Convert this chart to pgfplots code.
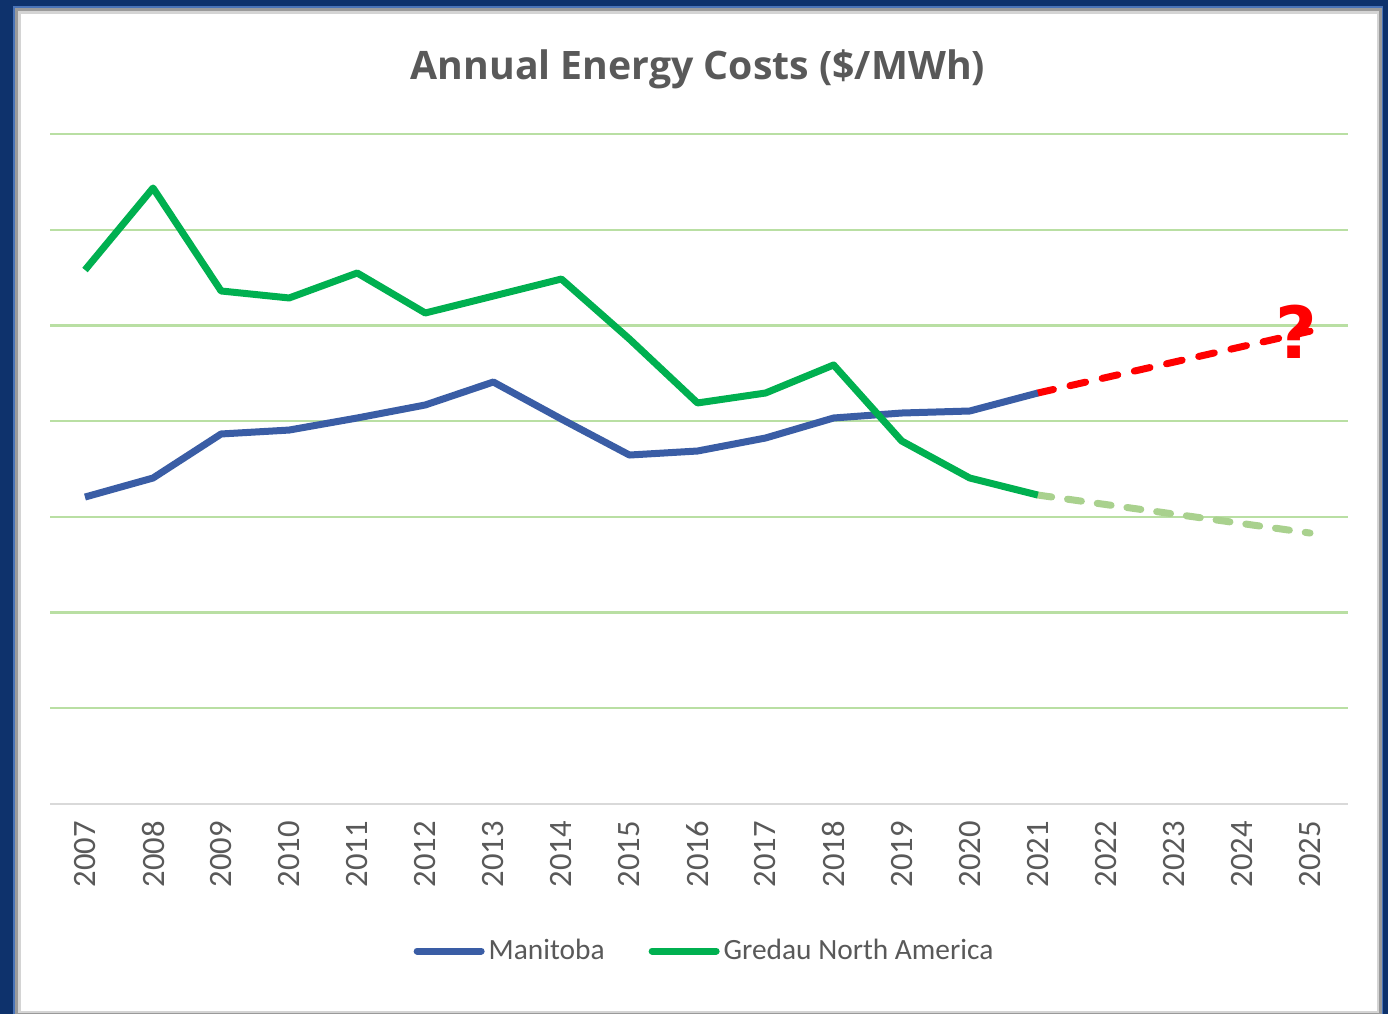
\documentclass[border=0pt]{standalone}
\usepackage{pgfplots}
\pgfplotsset{compat=1.18}
\usepackage{fontspec}
\setmainfont{Carlito}
\newfontfamily\titlefont{Open Sans}
\newfontfamily\qfont{DejaVu Sans}
\definecolor{navy}{HTML}{0E326C}
\definecolor{edgeblue}{HTML}{4A74B8}
\definecolor{bevel}{HTML}{9A9A9A}
\definecolor{bevellight}{HTML}{D4D4D4}
\definecolor{txtgray}{HTML}{595959}
\definecolor{gridgreen}{HTML}{B9DFA3}
\definecolor{mblue}{HTML}{3A5DA5}
\definecolor{ggreen}{HTML}{00B050}
\definecolor{lgreen}{HTML}{A9D18E}
\begin{document}
\begin{tikzpicture}
\useasboundingbox (0pt,0pt) rectangle (694pt,507pt);
\fill[navy] (0pt,0pt) rectangle (694pt,507pt);
\fill[edgeblue] (6.5pt,0pt) rectangle (691.5pt,504pt);
\fill[bevel] (7.5pt,0pt) rectangle (691pt,503pt);
\fill[bevellight] (9pt,0.5pt) rectangle (689.5pt,501.5pt);
\fill[white] (10.5pt,1.5pt) rectangle (688.5pt,500pt);
\node[text=txtgray, font=\titlefont\bfseries\fontsize{19.6}{23}\selectfont] at (349pt,472.5pt) {Annual Energy Costs (\$/MWh)};
\begin{axis}[
  at={(25pt,105pt)}, anchor=south west,
  scale only axis, width=649pt, height=335pt,
  xmin=2006.486, xmax=2025.558, ymin=0, ymax=70,
  axis x line=bottom, axis y line=left,
  x axis line style={draw=black!15, line width=1pt, -},
  y axis line style={draw=none},
  xtick={2007,...,2025},
  xticklabel style={rotate=90, anchor=east, text=txtgray, font=\fontsize{16.3}{18}\selectfont},
  xticklabel={\pgfmathprintnumber[1000 sep={},assume math mode=true]{\tick}},
  xticklabel shift=5pt,
  major tick length=0pt,
  ytick={10,20,...,70},
  yticklabels={},
  ymajorgrids, major grid style={draw=gridgreen, line width=1.1pt},
  clip=false,
  legend columns=2,
  legend style={at={(0.505,-0.2194)}, anchor=center, draw=none, fill=none,
    font=\fontsize{14.7}{17}\selectfont, text=txtgray,
    /tikz/every even column/.append style={column sep=20pt},
    inner sep=0pt},
  legend image code/.code={\draw[#1, line cap=round] (0pt,0pt) -- (32pt,0pt);},
  every axis plot/.append style={line width=3.5pt, line join=round},
]
\addplot[lgreen, dash pattern=on 7pt off 8pt, line cap=round, forget plot] coordinates {
(2021,32.28) (2025,28.31)};
\addplot[red, dash pattern=on 8pt off 8.5pt, line cap=round, forget plot] coordinates {
(2021,42.94) (2025,49.4)};
\addplot[mblue] coordinates {
(2007,32.07) (2008,34.06) (2009,38.66) (2010,39.07) (2011,40.33) (2012,41.69)
(2013,44.09) (2014,40.22) (2015,36.46) (2016,36.88) (2017,38.24) (2018,40.33)
(2019,40.85) (2020,41.06) (2021,42.94)};
\addlegendentry{Manitoba}
\addplot[ggreen] coordinates {
(2007,55.79) (2008,64.36) (2009,53.60) (2010,52.87) (2011,55.48) (2012,51.30)
(2013,53.07) (2014,54.85) (2015,48.58) (2016,41.90) (2017,42.94) (2018,45.87)
(2019,37.93) (2020,34.06) (2021,32.28)};
\addlegendentry{Gredau North America}
\node[text=red, font=\qfont\bfseries\fontsize{36}{40}\selectfont, inner sep=0pt] at (axis cs:2024.8,49.3) {?};
\end{axis}
\end{tikzpicture}
\end{document}
